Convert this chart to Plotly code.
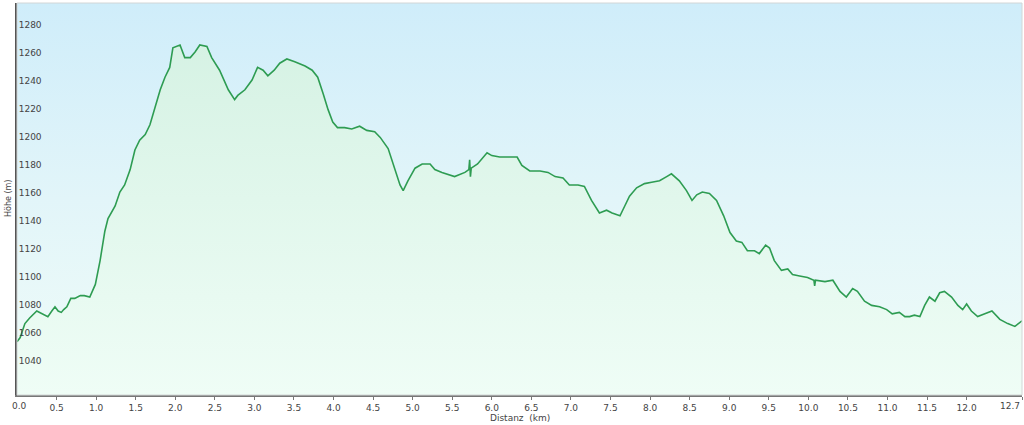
import plotly.graph_objects as go

distance_km = [0.00, 0.04, 0.10, 0.16, 0.25, 0.35, 0.39, 0.44, 0.48, 0.52, 0.56, 0.59, 0.63, 0.68, 0.73,
               0.80, 0.85, 0.92, 0.99, 1.05, 1.11, 1.15, 1.24, 1.30, 1.36, 1.43, 1.49, 1.55, 1.62, 1.68,
               1.74, 1.81, 1.87, 1.93, 1.97, 2.06, 2.12, 2.19, 2.25, 2.31, 2.40, 2.46, 2.56, 2.67, 2.75,
               2.79, 2.88, 2.97, 3.04, 3.11, 3.17, 3.25, 3.32, 3.41, 3.51, 3.64, 3.73, 3.80, 3.87, 3.93,
               3.99, 4.05, 4.14, 4.23, 4.33, 4.42, 4.52, 4.59, 4.69, 4.77, 4.84, 4.88, 4.94, 5.03, 5.12,
               5.22, 5.28, 5.37, 5.47, 5.53, 5.66, 5.71, 5.72, 5.73, 5.74, 5.82, 5.94, 6.00, 6.10, 6.23,
               6.32, 6.38, 6.48, 6.61, 6.71, 6.80, 6.90, 6.98, 7.09, 7.17, 7.26, 7.36, 7.45, 7.52, 7.62,
               7.68, 7.74, 7.83, 7.93, 8.02, 8.12, 8.21, 8.27, 8.37, 8.46, 8.53, 8.59, 8.66, 8.75, 8.84,
               8.93, 9.01, 9.09, 9.16, 9.23, 9.32, 9.38, 9.46, 9.51, 9.57, 9.66, 9.74, 9.80, 9.89, 9.99,
               10.07, 10.08, 10.09, 10.21, 10.31, 10.40, 10.48, 10.56, 10.62, 10.71, 10.80, 10.90, 10.99,
               11.06, 11.15, 11.22, 11.28, 11.34, 11.41, 11.47, 11.53, 11.60, 11.66, 11.72, 11.81, 11.89,
               11.95, 12.00, 12.06, 12.14, 12.23, 12.32, 12.42, 12.52, 12.61, 12.67, 12.70]
elevation_m = [1058, 1061, 1071, 1075, 1080, 1077, 1076, 1080, 1083, 1080, 1079, 1081, 1083, 1089, 1089,
               1091, 1091, 1090, 1099, 1116, 1137, 1146, 1155, 1165, 1170, 1181, 1195, 1202, 1206, 1213,
               1225, 1238, 1247, 1254, 1268, 1270, 1261, 1261, 1265, 1270, 1269, 1261, 1252, 1238, 1231,
               1234, 1238, 1245, 1254, 1252, 1248, 1252, 1257, 1260, 1258, 1255, 1252, 1247, 1235, 1224,
               1215, 1211, 1211, 1210, 1212, 1209, 1208, 1204, 1196, 1182, 1170, 1166, 1173, 1182, 1185,
               1185, 1181, 1179, 1177, 1176, 1179, 1181, 1188, 1176, 1182, 1185, 1193, 1191, 1190, 1190,
               1190, 1184, 1180, 1180, 1179, 1176, 1175, 1170, 1170, 1169, 1159, 1150, 1152, 1150, 1148,
               1155, 1162, 1168, 1171, 1172, 1173, 1176, 1178, 1173, 1166, 1159, 1163, 1165, 1164, 1159,
               1148, 1136, 1130, 1129, 1123, 1123, 1121, 1127, 1125, 1116, 1109, 1110, 1106, 1105, 1104,
               1102, 1098, 1102, 1101, 1102, 1094, 1090, 1096, 1094, 1087, 1084, 1083, 1081,
               1078, 1079, 1076, 1076, 1077, 1076, 1084, 1090, 1087, 1093, 1094, 1090, 1084,
               1081, 1085, 1080, 1076, 1078, 1080, 1074, 1071, 1069, 1072, 1073]

x_tickvals = [0.0, 0.5, 1.0, 1.5, 2.0, 2.5, 3.0, 3.5, 4.0, 4.5, 5.0, 5.5, 6.0, 6.5, 7.0, 7.5, 8.0,
              8.5, 9.0, 9.5, 10.0, 10.5, 11.0, 11.5, 12.0, 12.7]
x_ticktext = ["", "0.5", "1.0", "1.5", "2.0", "2.5", "3.0", "3.5", "4.0", "4.5", "5.0", "5.5",
              "6.0", "6.5", "7.0", "7.5", "8.0", "8.5", "9.0", "9.5", "10.0", "10.5", "11.0", "11.5",
              "12.0", ""]
y_tickvals = [1040, 1060, 1080, 1100, 1120, 1140, 1160, 1180, 1200, 1220, 1240, 1260, 1280]

X_MIN, X_MAX = 0.0, 12.7
Y_MIN, Y_MAX = 1020, 1300
FONT = "DejaVu Sans"
TXT = dict(family=FONT, size=9, color="#444444")

fig = go.Figure()

# background gradient (light blue top -> mint bottom)
fig.add_trace(go.Scatter(
    x=[X_MIN, X_MAX], y=[Y_MAX, Y_MAX], mode="lines", line=dict(width=0),
    fill="tozeroy",
    fillgradient=dict(type="vertical", start=Y_MIN, stop=Y_MAX,
                      colorscale=[[0, "#effcf8"], [0.5, "#e2f5f9"], [1, "#cfedfa"]]),
    hoverinfo="skip", showlegend=False))

# area under the profile
fig.add_trace(go.Scatter(
    x=distance_km, y=elevation_m, mode="lines",
    line=dict(color="#2e9c52", width=1.6),
    fill="tozeroy",
    fillgradient=dict(type="vertical", start=Y_MIN, stop=Y_MAX,
                      colorscale=[[0, "#effdf6"], [1, "#d3f1e2"]]),
    showlegend=False))

# light border at top and right
fig.add_shape(type="rect", xref="paper", yref="paper", x0=0, x1=1, y0=0, y1=1,
              line=dict(color="#d2d6d6", width=1), layer="above")

fig.update_layout(
    width=1024, height=425,
    margin=dict(l=17, r=2, t=3, b=30),
    paper_bgcolor="white", plot_bgcolor="white",
    font=TXT,
    xaxis=dict(range=[X_MIN, X_MAX], tickvals=x_tickvals, ticktext=x_ticktext, automargin=False,
               showgrid=False, zeroline=False, showline=True, linecolor="#777777", linewidth=1.5,
               ticks="outside", ticklen=3, tickcolor="#777777", tickfont=TXT),
    yaxis=dict(range=[Y_MIN, Y_MAX], tickvals=y_tickvals, automargin=False,
               showgrid=True, gridcolor="#c6d2d2", gridwidth=1, zeroline=False,
               showline=True, linecolor="#555555", linewidth=1.5,
               ticks="", ticklabelposition="inside top", tickfont=TXT),
    annotations=[
        dict(text="0.0", x=X_MIN, y=0, xref="x", yref="paper", xanchor="center", yanchor="top",
             xshift=2, yshift=-4, showarrow=False, font=TXT),
        dict(text="12.7", x=X_MAX, y=0, xref="x", yref="paper", xanchor="right", yanchor="top",
             yshift=-4, showarrow=False, font=TXT),
        dict(text="Distanz  (km)", x=0.5, y=0, xref="paper", yref="paper", xanchor="center",
             yanchor="top", yshift=-16, showarrow=False, font=TXT),
        dict(text="Höhe (m)", x=0, y=0.5, xref="paper", yref="paper", xanchor="center",
             yanchor="middle", xshift=-9, textangle=-90, showarrow=False,
             font=dict(family=FONT, size=8, color="#444444")),
    ],
)

fig.write_html("out.html", config={"displayModeBar": False},
               post_script="document.body.style.margin='0';document.body.style.overflow='hidden';")
